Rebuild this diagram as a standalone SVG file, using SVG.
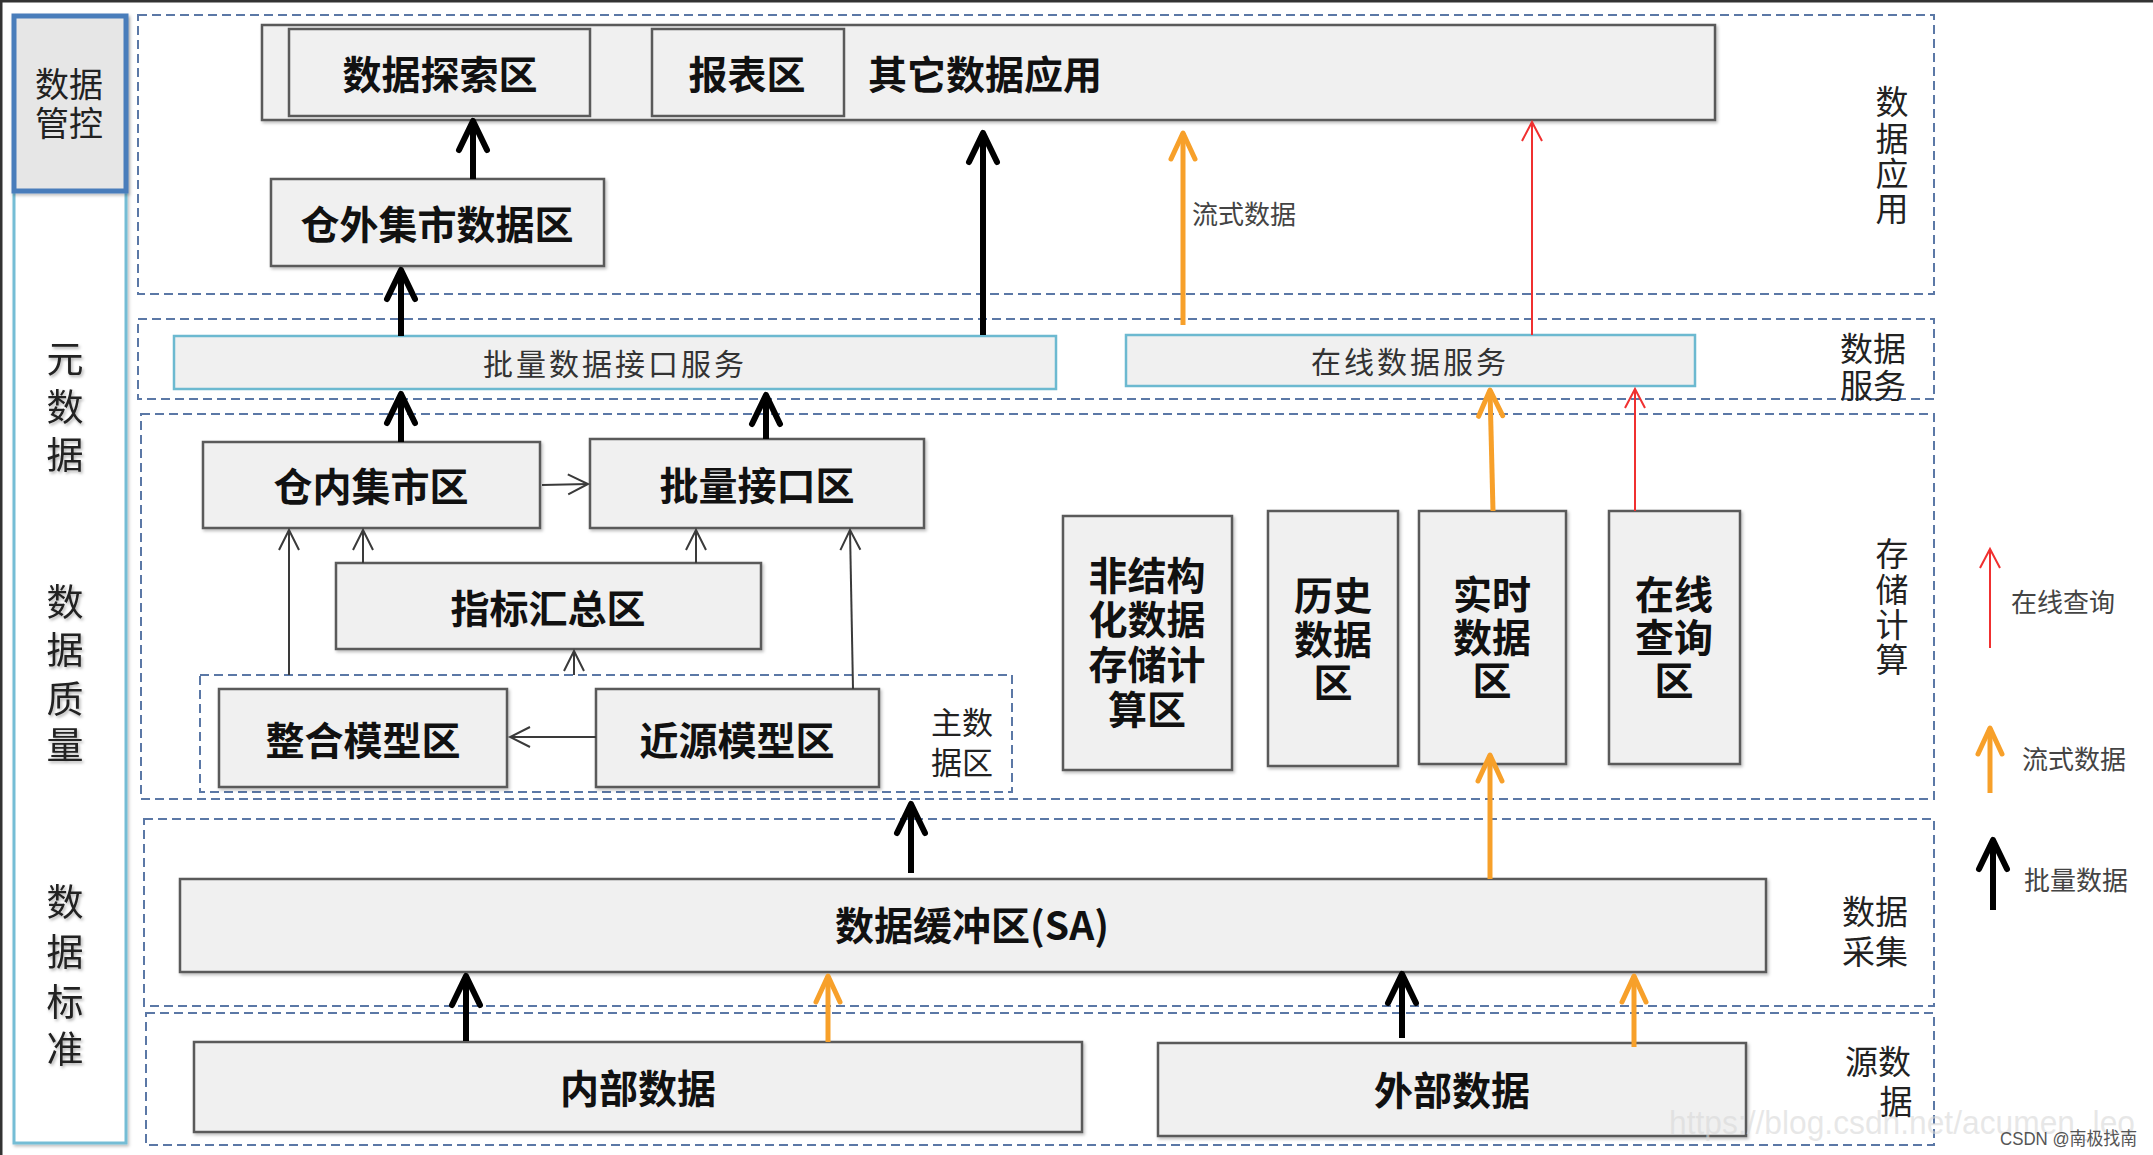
<svg xmlns="http://www.w3.org/2000/svg" width="2153" height="1155" viewBox="0 0 2153 1155">
<style>
.bg{fill:#ffffff}
.layer{fill:none;stroke:#5b78a6;stroke-width:2;stroke-dasharray:9 5}
.box{fill:#f0f0f0;stroke:#5a5a5a;stroke-width:2.5}
.svc{fill:#f0f0f0;stroke:#6cb9d0;stroke-width:2.5}
.bt{font-family:"Noto Sans CJK SC","Liberation Sans",sans-serif;font-weight:bold;font-size:39px;fill:#111;text-anchor:middle;dominant-baseline:central}
.st{font-family:"Noto Sans CJK SC","Liberation Sans",sans-serif;font-size:30px;fill:#333;text-anchor:middle;dominant-baseline:central;letter-spacing:3px}
.lt{font-family:"Noto Sans CJK SC","Liberation Sans",sans-serif;font-size:33px;fill:#222;text-anchor:middle;dominant-baseline:central}
.side{font-family:"Noto Sans CJK SC","Liberation Sans",sans-serif;font-size:37px;fill:#222;text-anchor:middle;dominant-baseline:central}
.leg{font-family:"Noto Sans CJK SC","Liberation Sans",sans-serif;font-size:26px;fill:#444;dominant-baseline:central}
.blk{stroke:#000;stroke-width:6;fill:none}
.org{stroke:#f7a02a;stroke-width:5;fill:none}
.red{stroke:#f03030;stroke-width:2;fill:none}
.gry{stroke:#3a3a3a;stroke-width:2;fill:none}
</style>
<defs>
<filter id="sh" x="-5%" y="-5%" width="115%" height="120%">
<feDropShadow dx="1.5" dy="2" stdDeviation="1.5" flood-color="#000" flood-opacity="0.25"/>
</filter>
<filter id="tsh" x="-20%" y="-20%" width="150%" height="150%">
<feDropShadow dx="1.5" dy="2" stdDeviation="1.5" flood-color="#000" flood-opacity="0.3"/>
</filter>
<marker id="mB" markerUnits="userSpaceOnUse" markerWidth="80" markerHeight="80" viewBox="-40 -40 80 80" refX="0" refY="0" orient="auto" overflow="visible">
<path d="M-29,-14 L0,0 L-29,14" fill="none" stroke="#000" stroke-width="6" stroke-linecap="round" stroke-linejoin="round"/>
</marker>
<marker id="mO" markerUnits="userSpaceOnUse" markerWidth="80" markerHeight="80" viewBox="-40 -40 80 80" refX="0" refY="0" orient="auto" overflow="visible">
<path d="M-26,-12 L0,0 L-26,12" fill="none" stroke="#f7a02a" stroke-width="5" stroke-linecap="round" stroke-linejoin="round"/>
</marker>
<marker id="mR" markerUnits="userSpaceOnUse" markerWidth="60" markerHeight="60" viewBox="-30 -30 60 60" refX="0" refY="0" orient="auto" overflow="visible">
<path d="M-19,-10 L0,0 L-19,10" fill="none" stroke="#f03030" stroke-width="2"/>
</marker>
<marker id="mG" markerUnits="userSpaceOnUse" markerWidth="60" markerHeight="60" viewBox="-30 -30 60 60" refX="0" refY="0" orient="auto" overflow="visible">
<path d="M-20,-10 L0,0 L-20,10" fill="none" stroke="#3a3a3a" stroke-width="2"/>
</marker>
</defs>
<rect class="bg" x="0" y="0" width="2153" height="1155"/>
<path d="M1,1155 L1,1 L2153,1" fill="none" stroke="#333" stroke-width="3"/>

<!-- left panel -->
<g id="left-panel">
<rect x="14" y="17" width="112" height="1126" fill="#ffffff" stroke="#74bdd5" stroke-width="3" filter="url(#sh)"/>
<g id="data-control">
<rect x="14" y="16" width="112" height="175" fill="#e6e6e6" stroke="#4a7dbb" stroke-width="5" filter="url(#sh)"/>
<text class="lt" style="font-size:34px"><tspan x="69" y="82">数据</tspan><tspan x="69" y="121">管控</tspan></text>
</g>
<g id="metadata" filter="url(#tsh)">
<text class="side"><tspan x="65" y="357">元</tspan><tspan x="65" y="405">数</tspan><tspan x="65" y="453">据</tspan></text>
</g>
<g id="data-quality" filter="url(#tsh)">
<text class="side"><tspan x="65" y="600">数</tspan><tspan x="65" y="648">据</tspan><tspan x="65" y="697">质</tspan><tspan x="65" y="743">量</tspan></text>
</g>
<g id="data-standard" filter="url(#tsh)">
<text class="side"><tspan x="65" y="900">数</tspan><tspan x="65" y="950">据</tspan><tspan x="65" y="1000">标</tspan><tspan x="65" y="1047">准</tspan></text>
</g>
</g>

<!-- layers -->
<g id="layers">
<g id="layer-app">
<rect class="layer" x="138" y="15" width="1796" height="279"/>
<text class="lt"><tspan x="1892" y="100">数</tspan><tspan x="1892" y="137">据</tspan><tspan x="1892" y="172">应</tspan><tspan x="1892" y="207">用</tspan></text>
</g>
<g id="layer-service">
<rect class="layer" x="138" y="319" width="1796" height="80"/>
<text class="lt"><tspan x="1873" y="347">数据</tspan><tspan x="1873" y="384">服务</tspan></text>
</g>
<g id="layer-storage">
<rect class="layer" x="141" y="414" width="1793" height="385"/>
<text class="lt"><tspan x="1892" y="552">存</tspan><tspan x="1892" y="588">储</tspan><tspan x="1892" y="623">计</tspan><tspan x="1892" y="658">算</tspan></text>
</g>
<g id="layer-collect">
<rect class="layer" x="144" y="819" width="1790" height="187"/>
<text class="lt"><tspan x="1875" y="910">数据</tspan><tspan x="1875" y="950">采集</tspan></text>
</g>
<g id="layer-source">
<rect class="layer" x="146" y="1013" width="1788" height="132"/>
<text class="lt"><tspan x="1878" y="1060">源数</tspan><tspan x="1896" y="1100">据</tspan></text>
</g>
<g id="master-data-zone">
<rect class="layer" x="200" y="675" width="812" height="117"/>
<text class="lt" style="font-size:31px"><tspan x="962" y="720">主数</tspan><tspan x="962" y="760">据区</tspan></text>
</g>
</g>

<!-- nodes -->
<g id="app-container">
<rect class="box" x="262" y="25" width="1453" height="95" filter="url(#sh)"/>
<text class="bt" x="985" y="72">其它数据应用</text>
</g>
<g id="explore">
<rect class="box" x="289" y="29" width="301" height="87"/>
<text class="bt" x="440" y="72">数据探索区</text>
</g>
<g id="report">
<rect class="box" x="652" y="29" width="192" height="87"/>
<text class="bt" x="747" y="72">报表区</text>
</g>
<g id="outer-mart">
<rect class="box" x="271" y="179" width="333" height="87" filter="url(#sh)"/>
<text class="bt" x="437" y="222">仓外集市数据区</text>
</g>
<g id="batch-service">
<rect class="svc" x="174" y="336" width="882" height="53"/>
<text class="st" x="615" y="362">批量数据接口服务</text>
</g>
<g id="online-service">
<rect class="svc" x="1126" y="335" width="569" height="51"/>
<text class="st" x="1410" y="360">在线数据服务</text>
</g>
<g id="inner-mart">
<rect class="box" x="203" y="442" width="337" height="86" filter="url(#sh)"/>
<text class="bt" x="371" y="484">仓内集市区</text>
</g>
<g id="batch-interface">
<rect class="box" x="590" y="439" width="334" height="89" filter="url(#sh)"/>
<text class="bt" x="757" y="483">批量接口区</text>
</g>
<g id="indicator">
<rect class="box" x="336" y="563" width="425" height="86" filter="url(#sh)"/>
<text class="bt" x="548" y="606">指标汇总区</text>
</g>
<g id="integrated">
<rect class="box" x="219" y="689" width="288" height="98" filter="url(#sh)"/>
<text class="bt" x="363" y="738">整合模型区</text>
</g>
<g id="near-source">
<rect class="box" x="596" y="689" width="283" height="98" filter="url(#sh)"/>
<text class="bt" x="737" y="738">近源模型区</text>
</g>
<g id="unstructured">
<rect class="box" x="1063" y="516" width="169" height="254" filter="url(#sh)"/>
<text class="bt"><tspan x="1147" y="573">非结构</tspan><tspan x="1147" y="617">化数据</tspan><tspan x="1147" y="662">存储计</tspan><tspan x="1147" y="707">算区</tspan></text>
</g>
<g id="history">
<rect class="box" x="1268" y="511" width="130" height="255" filter="url(#sh)"/>
<text class="bt"><tspan x="1333" y="593">历史</tspan><tspan x="1333" y="637">数据</tspan><tspan x="1333" y="680">区</tspan></text>
</g>
<g id="realtime">
<rect class="box" x="1419" y="511" width="147" height="253" filter="url(#sh)"/>
<text class="bt"><tspan x="1492" y="592">实时</tspan><tspan x="1492" y="635">数据</tspan><tspan x="1492" y="678">区</tspan></text>
</g>
<g id="online-query">
<rect class="box" x="1609" y="511" width="131" height="253" filter="url(#sh)"/>
<text class="bt"><tspan x="1674" y="592">在线</tspan><tspan x="1674" y="635">查询</tspan><tspan x="1674" y="678">区</tspan></text>
</g>
<g id="buffer-sa">
<rect class="box" x="180" y="879" width="1586" height="93" filter="url(#sh)"/>
<text class="bt" x="972" y="923">数据缓冲区(SA)</text>
</g>
<g id="internal-data">
<rect class="box" x="194" y="1042" width="888" height="90" filter="url(#sh)"/>
<text class="bt" x="638" y="1086">内部数据</text>
</g>
<g id="external-data">
<rect class="box" x="1158" y="1043" width="588" height="93" filter="url(#sh)"/>
<text class="bt" x="1452" y="1088">外部数据</text>
</g>

<!-- connectors -->
<g id="connectors">
<line class="blk" x1="473" y1="179" x2="473" y2="121" marker-end="url(#mB)"/>
<line class="blk" x1="401" y1="336" x2="401" y2="270" marker-end="url(#mB)"/>
<line class="blk" x1="983" y1="335" x2="983" y2="133" marker-end="url(#mB)"/>
<line class="org" x1="1183" y1="325" x2="1183" y2="133" marker-end="url(#mO)"/>
<line class="red" x1="1532" y1="335" x2="1532" y2="122" marker-end="url(#mR)"/>
<line class="blk" x1="401" y1="442" x2="401" y2="394" marker-end="url(#mB)"/>
<line class="blk" x1="766" y1="439" x2="766" y2="395" marker-end="url(#mB)"/>
<line class="org" x1="1493" y1="511" x2="1490" y2="390" marker-end="url(#mO)"/>
<line class="red" x1="1635" y1="511" x2="1635" y2="389" marker-end="url(#mR)"/>
<line class="gry" x1="542" y1="485" x2="588" y2="484" marker-end="url(#mG)"/>
<line class="gry" x1="363" y1="563" x2="363" y2="530" marker-end="url(#mG)"/>
<line class="gry" x1="696" y1="563" x2="696" y2="530" marker-end="url(#mG)"/>
<line class="gry" x1="289" y1="675" x2="289" y2="530" marker-end="url(#mG)"/>
<line class="gry" x1="574" y1="675" x2="574" y2="651" marker-end="url(#mG)"/>
<line class="gry" x1="853" y1="689" x2="850" y2="530" marker-end="url(#mG)"/>
<line class="gry" x1="596" y1="737" x2="510" y2="737" marker-end="url(#mG)"/>
<line class="blk" x1="911" y1="873" x2="911" y2="804" marker-end="url(#mB)"/>
<line class="org" x1="1490" y1="879" x2="1490" y2="755" marker-end="url(#mO)"/>
<line class="blk" x1="466" y1="1041" x2="466" y2="976" marker-end="url(#mB)"/>
<line class="org" x1="828" y1="1042" x2="828" y2="976" marker-end="url(#mO)"/>
<line class="blk" x1="1402" y1="1038" x2="1402" y2="974" marker-end="url(#mB)"/>
<line class="org" x1="1634" y1="1047" x2="1634" y2="976" marker-end="url(#mO)"/>
<text class="leg" x="1192" y="212">流式数据</text>
</g>

<!-- legend -->
<g id="legend">
<line class="red" x1="1990" y1="648" x2="1990" y2="549" marker-end="url(#mR)"/>
<text class="leg" x="2011" y="600">在线查询</text>
<line class="org" x1="1990" y1="793" x2="1990" y2="728" marker-end="url(#mO)"/>
<text class="leg" x="2022" y="757">流式数据</text>
<line class="blk" x1="1993" y1="910" x2="1993" y2="840" marker-end="url(#mB)"/>
<text class="leg" x="2024" y="878">批量数据</text>
</g>

<g id="watermark">
<text x="1669" y="1122" font-family="Liberation Sans, sans-serif" font-size="34" fill="#d8d8d8" fill-opacity="0.6" dominant-baseline="central" textLength="466" lengthAdjust="spacingAndGlyphs">https://blog.csdn.net/acumen_leo</text>
<text x="2000" y="1139" font-family="Liberation Sans, Noto Sans CJK SC, sans-serif" font-size="18" fill="#555" dominant-baseline="central" textLength="137" lengthAdjust="spacingAndGlyphs">CSDN @南极找南</text>
</g>
</svg>
